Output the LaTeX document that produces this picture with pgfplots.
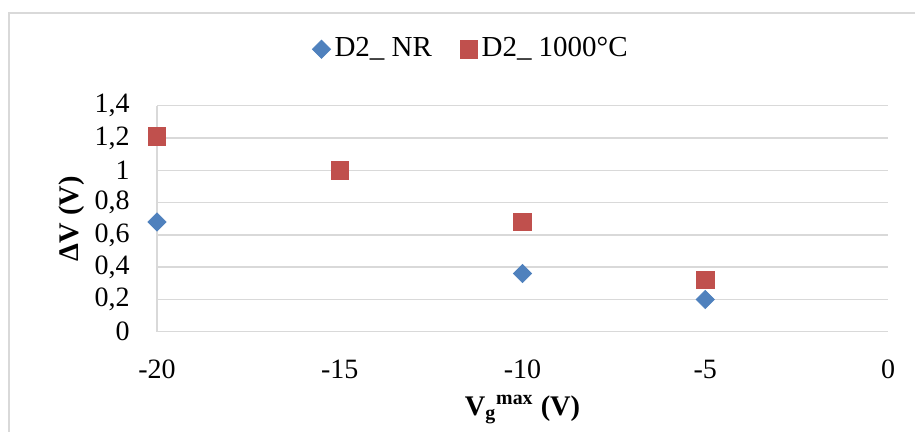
\documentclass[border=0pt]{standalone}
\usepackage{fontspec}
\setmainfont{Liberation Serif}
\usepackage{pgfplots}
\pgfplotsset{compat=1.18}
\definecolor{nrblue}{HTML}{4F81BD}
\definecolor{hotred}{HTML}{C0504D}
\definecolor{gridgray}{HTML}{D9D9D9}
\begin{document}
\fontsize{14}{16}\selectfont
\begin{tikzpicture}
\path[use as bounding box] (0,0) rectangle (457.5pt,-216pt);
\draw[gridgray, line width=0.7pt] (4.5pt,-240pt) -- (4.5pt,-6.5pt) -- (480pt,-6.5pt);
\begin{axis}[
  at={(78.5pt,-165.85pt)}, anchor=south west,
  scale only axis, width=365.5pt, height=113pt,
  xmin=-20, xmax=0, ymin=0, ymax=1.4,
  xtick={-20,-15,-10,-5,0},
  ytick={0,0.2,0.4,0.6,0.8,1,1.2,1.4},
  /pgf/number format/assume math mode=true,
  /pgf/number format/use comma,
  axis lines=left,
  axis line style={-, draw=gridgray, line width=0.7pt},
  major tick length=0pt,
  ymajorgrids,
  grid style={gridgray, line width=0.7pt},
  clip=false,
  tick label style={font=\fontsize{14}{16}\selectfont},
  yticklabel style={xshift=-8.8pt},
  xticklabel style={yshift=-9.3pt},
  every axis y label/.style={at={(rel axis cs:0,0.5)}, xshift=-42.5pt, rotate=90, anchor=center, font=\fontsize{14.2}{16}\selectfont\bfseries},
  every axis x label/.style={at={(rel axis cs:0.5,0)}, yshift=-39pt, anchor=center, font=\fontsize{14.2}{16}\selectfont\bfseries},
  ylabel={ΔV (V)},
  xlabel={V\textsubscript{g}\textsuperscript{max} (V)},
  legend style={at={(rel axis cs:0.431,1.25)}, anchor=center, draw=none, fill=none,
    font=\fontsize{14.5}{16}\selectfont, legend columns=2,
    /tikz/every even column/.append style={column sep=12pt},
    inner sep=0pt},
  legend image code/.code={\draw[#1] plot coordinates {(0.18cm,0cm)};},
]
\addplot[only marks, mark=square*, mark size=3.2pt, mark options={rotate=45, fill=nrblue, draw=nrblue}]
  coordinates {(-20,0.68)(-10,0.36)(-5,0.2)};
\addlegendentry{D2\_ NR}
\addplot[only marks, mark=square*, mark size=4.4pt, mark options={fill=hotred, draw=hotred}]
  coordinates {(-20,1.21)(-15,1.0)(-10,0.68)(-5,0.32)};
\addlegendentry{D2\_ 1000°C}
\end{axis}
\end{tikzpicture}
\end{document}
